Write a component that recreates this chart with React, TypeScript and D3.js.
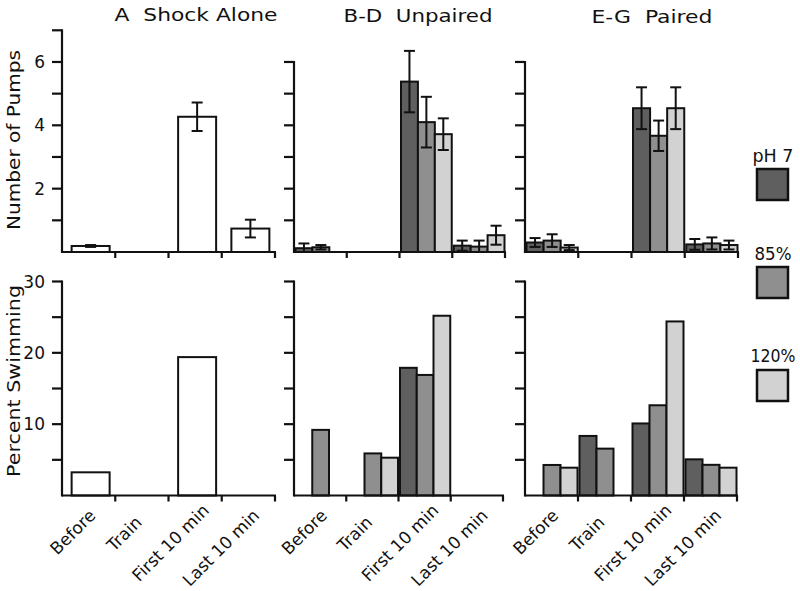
import React from "react";
import * as d3 from "d3";

const categories = ["Before", "Train", "First 10 min", "Last 10 min"];
const seriesNames = ["pH 7", "85%", "120%"];
const seriesColors = ["#5f5f5f", "#8f8f8f", "#d2d2d2"];

// Panel A: Shock alone
const shockPumps: (number | null)[] = [0.19, null, 4.27, 0.74];
const shockPumpsErr: (number | null)[] = [0.03, null, 0.45, 0.28];
const shockSwim: (number | null)[] = [3.25, null, 19.4, null];

// Panels B-D: Unpaired
const unpairedPumpsPH7: (number | null)[] = [0.12, null, 5.38, 0.2];
const unpairedPumps85: (number | null)[] = [0.15, null, 4.1, 0.17];
const unpairedPumps120: (number | null)[] = [null, null, 3.72, 0.53];
const unpairedErrPH7: (number | null)[] = [0.15, null, 0.97, 0.16];
const unpairedErr85: (number | null)[] = [0.07, null, 0.8, 0.19];
const unpairedErr120: (number | null)[] = [null, null, 0.5, 0.3];
const unpairedSwimPH7: (number | null)[] = [null, null, 17.9, null];
const unpairedSwim85: (number | null)[] = [9.2, 5.9, 16.9, null];
const unpairedSwim120: (number | null)[] = [null, 5.3, 25.2, null];

// Panels E-G: Paired
const pairedPumpsPH7: (number | null)[] = [0.3, null, 4.54, 0.24];
const pairedPumps85: (number | null)[] = [0.36, null, 3.67, 0.27];
const pairedPumps120: (number | null)[] = [0.14, null, 4.54, 0.22];
const pairedErrPH7: (number | null)[] = [0.14, null, 0.66, 0.17];
const pairedErr85: (number | null)[] = [0.2, null, 0.48, 0.19];
const pairedErr120: (number | null)[] = [0.08, null, 0.66, 0.14];
const pairedSwimPH7: (number | null)[] = [null, 8.35, 10.1, 5.07];
const pairedSwim85: (number | null)[] = [4.28, 6.57, 12.65, 4.3];
const pairedSwim120: (number | null)[] = [3.9, null, 24.4, 3.9];

const pumpTicks = [1, 2, 3, 4, 5, 6, 7];
const pumpTickLabels = [2, 4, 6];
const swimTicks = [5, 10, 15, 20, 25, 30];
const swimTickLabels = [10, 20, 30];

const titles = ["A  Shock Alone", "B-D  Unpaired", "E-G  Paired"];

const FONT = "'DejaVu Sans', sans-serif";

type Series = { values: (number | null)[]; errs?: (number | null)[]; color: string; slot: number };

function Panel({
  x0, x1, y, yMax, ticks, tickLabels, series, nSlots, single, xLabels,
}: {
  x0: number; x1: number; y: d3.ScaleLinear<number, number>; yMax: number; ticks: number[];
  tickLabels: number[] | null; series: Series[]; nSlots: number; single: boolean; xLabels: boolean;
}) {
  const band = d3.scaleBand<string>().domain(categories).range([x0, x1]).padding(0);
  const bw = band.bandwidth();
  const inner = d3.scaleBand<number>().domain(d3.range(nSlots)).range([1.5, bw - 0.5]).padding(0);
  const base = y(0);
  const labelDx = [8, 1, 15, 12];
  const labelDy = [21, 28, 16, 21];
  return (
    <g>
      {series.map((s, si) =>
        s.values.map((v, i) => {
          if (v === null) return null;
          let bx: number, w: number;
          if (single) {
            w = 38;
            bx = (band(categories[i]) as number) + bw / 2 + 2 - w / 2;
          } else {
            w = inner.bandwidth();
            bx = (band(categories[i]) as number) + (inner(s.slot) as number);
          }
          const e = s.errs ? s.errs[i] : null;
          const cx = bx + w / 2;
          return (
            <g key={`${si}-${i}`}>
              <rect x={bx} y={y(v)} width={w} height={base - y(v)} fill={s.color} stroke="#111" strokeWidth={2} />
              {e !== null && e !== undefined && (
                <g stroke="#111" strokeWidth={2}>
                  <line x1={cx} x2={cx} y1={y(v + e)} y2={y(Math.max(0, v - e))} />
                  <line x1={cx - 5.5} x2={cx + 5.5} y1={y(v + e)} y2={y(v + e)} />
                  {v - e > 0 && <line x1={cx - 5.5} x2={cx + 5.5} y1={y(v - e)} y2={y(v - e)} />}
                </g>
              )}
            </g>
          );
        })
      )}
      <line x1={x0} x2={x0} y1={y(yMax) - 1} y2={base + 1} stroke="#111" strokeWidth={2.2} />
      {ticks.filter((t) => t <= yMax).map((t) => (
        <line key={t} x1={x0 - 10} x2={x0} y1={y(t)} y2={y(t)} stroke="#111" strokeWidth={2.2} />
      ))}
      {tickLabels && tickLabels.map((t) => (
        <text key={t} x={x0 - 17} y={y(t) + 6} textAnchor="end" fontSize={17} fontFamily={FONT} fill="#111">{t}</text>
      ))}
      <line x1={x0} x2={x1 + 1} y1={base} y2={base} stroke="#111" strokeWidth={2.2} />
      {categories.map((c) => {
        const tx = (band(c) as number) + bw;
        return <line key={c} x1={tx} x2={tx} y1={base} y2={base + 6} stroke="#111" strokeWidth={2.2} />;
      })}
      {xLabels && categories.map((c, i) => {
        const px = (band(c) as number) + bw / 2 + labelDx[i];
        const py = base + labelDy[i];
        return (
          <text key={c} transform={`translate(${px},${py}) rotate(-45)`} textAnchor="end" fontSize={17} fontFamily={FONT} fill="#111">{c}</text>
        );
      })}
    </g>
  );
}

export default function App() {
  const W = 800, H = 591;
  const yTop = d3.scaleLinear().domain([0, 7]).range([252, 30.3]);
  const yBot = d3.scaleLinear().domain([0, 30]).range([495.5, 281.5]);
  const cols = [
    { x0: 62, x1: 275 },
    { x0: 294, x1: 505 },
    { x0: 525, x1: 738 },
  ];
  const titleX = [196, 418, 652];
  const titleY = [21, 21.5, 23];
  const titleLen = [163, 149, 121];

  const unpairedTop: Series[] = [
    { values: unpairedPumpsPH7, errs: unpairedErrPH7, color: seriesColors[0], slot: 0 },
    { values: unpairedPumps85, errs: unpairedErr85, color: seriesColors[1], slot: 1 },
    { values: unpairedPumps120, errs: unpairedErr120, color: seriesColors[2], slot: 2 },
  ];
  const pairedTop: Series[] = [
    { values: pairedPumpsPH7, errs: pairedErrPH7, color: seriesColors[0], slot: 0 },
    { values: pairedPumps85, errs: pairedErr85, color: seriesColors[1], slot: 1 },
    { values: pairedPumps120, errs: pairedErr120, color: seriesColors[2], slot: 2 },
  ];
  const unpairedBot: Series[] = [
    { values: unpairedSwimPH7, color: seriesColors[0], slot: 0 },
    { values: unpairedSwim85, color: seriesColors[1], slot: 1 },
    { values: unpairedSwim120, color: seriesColors[2], slot: 2 },
  ];
  const pairedBot: Series[] = [
    { values: pairedSwimPH7, color: seriesColors[0], slot: 0 },
    { values: pairedSwim85, color: seriesColors[1], slot: 1 },
    { values: pairedSwim120, color: seriesColors[2], slot: 2 },
  ];

  const legendY = [169, 267, 370];
  const legendTextY = [162, 260, 362];
  const legendLen = [41, 37, 45];

  return (
    <svg width={W} height={H} style={{ position: "absolute", left: 0, top: 0, background: "#fff" }}>
      <rect width={W} height={H} fill="#fff" />
      {titles.map((t, i) => (
        <text key={t} x={titleX[i]} y={titleY[i]} textAnchor="middle" fontSize={18} fontFamily={FONT} fill="#111"
          textLength={titleLen[i]} lengthAdjust="spacingAndGlyphs" style={{ whiteSpace: "pre" }}>{t}</text>
      ))}
      <text transform="translate(20,140) rotate(-90)" textAnchor="middle" fontSize={18} fontFamily={FONT} fill="#111"
        textLength={180} lengthAdjust="spacingAndGlyphs">Number of Pumps</text>
      <text transform="translate(20,381) rotate(-90)" textAnchor="middle" fontSize={18} fontFamily={FONT} fill="#111"
        textLength={192} lengthAdjust="spacingAndGlyphs">Percent Swimming</text>

      <Panel x0={cols[0].x0} x1={cols[0].x1} y={yTop} yMax={7} ticks={pumpTicks} tickLabels={pumpTickLabels}
        series={[{ values: shockPumps, errs: shockPumpsErr, color: "#fff", slot: 0 }]} nSlots={1} single xLabels={false} />
      <Panel x0={cols[1].x0} x1={cols[1].x1} y={yTop} yMax={6} ticks={pumpTicks} tickLabels={null}
        series={unpairedTop} nSlots={3} single={false} xLabels={false} />
      <Panel x0={cols[2].x0} x1={cols[2].x1} y={yTop} yMax={6} ticks={pumpTicks} tickLabels={null}
        series={pairedTop} nSlots={3} single={false} xLabels={false} />

      <Panel x0={cols[0].x0} x1={cols[0].x1} y={yBot} yMax={30} ticks={swimTicks} tickLabels={swimTickLabels}
        series={[{ values: shockSwim, color: "#fff", slot: 0 }]} nSlots={1} single xLabels />
      <Panel x0={cols[1].x0} x1={cols[1].x1 - 2} y={yBot} yMax={30} ticks={swimTicks} tickLabels={null}
        series={unpairedBot} nSlots={3} single={false} xLabels />
      <Panel x0={cols[2].x0} x1={cols[2].x1 - 1} y={yBot} yMax={30} ticks={swimTicks} tickLabels={null}
        series={pairedBot} nSlots={3} single={false} xLabels />

      {seriesNames.map((n, i) => (
        <g key={n}>
          <text x={773} y={legendTextY[i]} textAnchor="middle" fontSize={17} fontFamily={FONT} fill="#111"
            textLength={legendLen[i]} lengthAdjust="spacingAndGlyphs">{n}</text>
          <rect x={757} y={legendY[i]} width={31} height={31} fill={seriesColors[i]} stroke="#111" strokeWidth={2.5} />
        </g>
      ))}
    </svg>
  );
}
